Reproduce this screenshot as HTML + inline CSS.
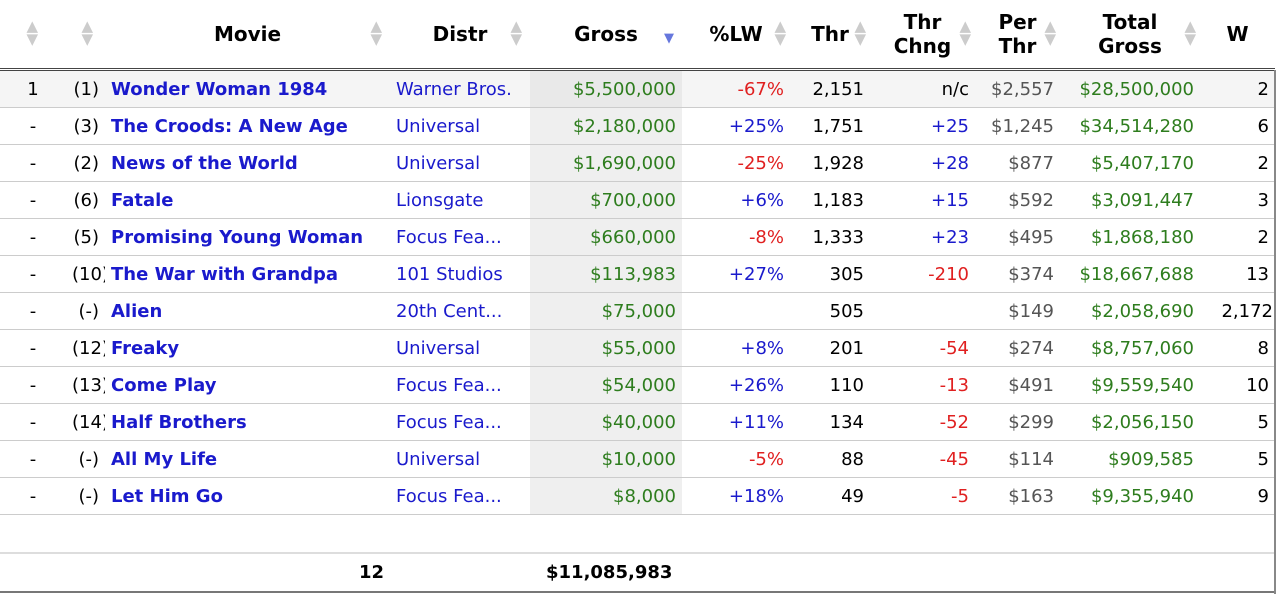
<!DOCTYPE html>
<html><head><meta charset="utf-8"><style>
body{margin:0;width:1280px;height:602px;overflow:hidden;background:#fff;font-family:"DejaVu Sans","Liberation Sans",sans-serif;font-size:18px;}
table{position:absolute;left:0;top:0;border-collapse:collapse;table-layout:fixed;width:1275px;}
th{height:68px;font-weight:bold;font-size:20px;color:#000;position:relative;line-height:1.2;padding:0;border-bottom:3px double #444;}
td{height:36px;padding:0 6px;border-bottom:1px solid #ccc;white-space:nowrap;overflow:hidden;}
tbody tr:first-child td{background:#f5f5f5;}
td.g{background:#efefef;color:#2e7d1e;text-align:right;}
tbody tr:first-child td.g{background:#e9e9e9;}
.r{text-align:right}.c{text-align:center}
.mv{color:#1a1acc;font-weight:bold;font-size:18px}
.ds{color:#1a1acc}
.gr{color:#2e7d1e}.red{color:#e02020}.blu{color:#1a1acc}.gy{color:#555}
.arr{position:absolute;right:8px;top:20px;color:#ccc;font-size:15px;line-height:13px}
tfoot td{font-weight:bold;border-bottom:2px solid #777;height:37px;font-size:18px}
.e td{height:37px;border-bottom:2px solid #ddd;background:#fff!important}
.tbl-edge{position:absolute;left:1274px;top:70px;width:2px;height:524px;background:#888}
</style></head><body>
<table>
<colgroup><col style="width:66px"><col style="width:39px"><col style="width:285px"><col style="width:140px"><col style="width:152px"><col style="width:108px"><col style="width:80px"><col style="width:105px"><col style="width:85px"><col style="width:140px"><col style="width:75px"></colgroup>
<thead><tr>
<th><span class="arr" style="right:28px">▲<br>▼</span></th>
<th><span class="arr" style="right:12px">▲<br>▼</span></th>
<th>Movie<span class="arr">▲<br>▼</span></th>
<th>Distr<span class="arr">▲<br>▼</span></th>
<th>Gross<span class="arr" style="color:#6677dd;top:32px;font-size:13px">▼</span></th>
<th>%LW<span class="arr" style="right:4px">▲<br>▼</span></th>
<th>Thr<span class="arr" style="right:4px">▲<br>▼</span></th>
<th>Thr<br>Chng<span class="arr" style="right:4px">▲<br>▼</span></th>
<th>Per<br>Thr<span class="arr" style="right:4px">▲<br>▼</span></th>
<th>Total<br>Gross<span class="arr" style="right:4px">▲<br>▼</span></th>
<th>W</th>
</tr></thead>
<tbody>
<tr><td class="c">1</td><td class="r">(1)</td><td class="mv">Wonder Woman 1984</td><td class="ds">Warner Bros.</td><td class="g">$5,500,000</td><td class="r red">-67%</td><td class="r">2,151</td><td class="r">n/c</td><td class="r gy">$2,557</td><td class="r gr">$28,500,000</td><td class="r">2</td></tr>
<tr><td class="c">-</td><td class="r">(3)</td><td class="mv">The Croods: A New Age</td><td class="ds">Universal</td><td class="g">$2,180,000</td><td class="r blu">+25%</td><td class="r">1,751</td><td class="r blu">+25</td><td class="r gy">$1,245</td><td class="r gr">$34,514,280</td><td class="r">6</td></tr>
<tr><td class="c">-</td><td class="r">(2)</td><td class="mv">News of the World</td><td class="ds">Universal</td><td class="g">$1,690,000</td><td class="r red">-25%</td><td class="r">1,928</td><td class="r blu">+28</td><td class="r gy">$877</td><td class="r gr">$5,407,170</td><td class="r">2</td></tr>
<tr><td class="c">-</td><td class="r">(6)</td><td class="mv">Fatale</td><td class="ds">Lionsgate</td><td class="g">$700,000</td><td class="r blu">+6%</td><td class="r">1,183</td><td class="r blu">+15</td><td class="r gy">$592</td><td class="r gr">$3,091,447</td><td class="r">3</td></tr>
<tr><td class="c">-</td><td class="r">(5)</td><td class="mv">Promising Young Woman</td><td class="ds">Focus Fea...</td><td class="g">$660,000</td><td class="r red">-8%</td><td class="r">1,333</td><td class="r blu">+23</td><td class="r gy">$495</td><td class="r gr">$1,868,180</td><td class="r">2</td></tr>
<tr><td class="c">-</td><td class="r">(10)</td><td class="mv">The War with Grandpa</td><td class="ds">101 Studios</td><td class="g">$113,983</td><td class="r blu">+27%</td><td class="r">305</td><td class="r red">-210</td><td class="r gy">$374</td><td class="r gr">$18,667,688</td><td class="r">13</td></tr>
<tr><td class="c">-</td><td class="r">(-)</td><td class="mv">Alien</td><td class="ds">20th Cent...</td><td class="g">$75,000</td><td class="r"></td><td class="r">505</td><td class="r"></td><td class="r gy">$149</td><td class="r gr">$2,058,690</td><td class="r" style="padding:0 2px">2,172</td></tr>
<tr><td class="c">-</td><td class="r">(12)</td><td class="mv">Freaky</td><td class="ds">Universal</td><td class="g">$55,000</td><td class="r blu">+8%</td><td class="r">201</td><td class="r red">-54</td><td class="r gy">$274</td><td class="r gr">$8,757,060</td><td class="r">8</td></tr>
<tr><td class="c">-</td><td class="r">(13)</td><td class="mv">Come Play</td><td class="ds">Focus Fea...</td><td class="g">$54,000</td><td class="r blu">+26%</td><td class="r">110</td><td class="r red">-13</td><td class="r gy">$491</td><td class="r gr">$9,559,540</td><td class="r">10</td></tr>
<tr><td class="c">-</td><td class="r">(14)</td><td class="mv">Half Brothers</td><td class="ds">Focus Fea...</td><td class="g">$40,000</td><td class="r blu">+11%</td><td class="r">134</td><td class="r red">-52</td><td class="r gy">$299</td><td class="r gr">$2,056,150</td><td class="r">5</td></tr>
<tr><td class="c">-</td><td class="r">(-)</td><td class="mv">All My Life</td><td class="ds">Universal</td><td class="g">$10,000</td><td class="r red">-5%</td><td class="r">88</td><td class="r red">-45</td><td class="r gy">$114</td><td class="r gr">$909,585</td><td class="r">5</td></tr>
<tr><td class="c">-</td><td class="r">(-)</td><td class="mv">Let Him Go</td><td class="ds">Focus Fea...</td><td class="g">$8,000</td><td class="r blu">+18%</td><td class="r">49</td><td class="r red">-5</td><td class="r gy">$163</td><td class="r gr">$9,355,940</td><td class="r">9</td></tr>
<tr class="e"><td colspan="11"></td></tr>
</tbody>
<tfoot><tr><td></td><td></td><td class="r">12</td><td></td><td style="padding-left:16px">$11,085,983</td><td></td><td></td><td></td><td></td><td></td><td></td></tr></tfoot>
</table>
<div class="tbl-edge"></div>
</body></html>
